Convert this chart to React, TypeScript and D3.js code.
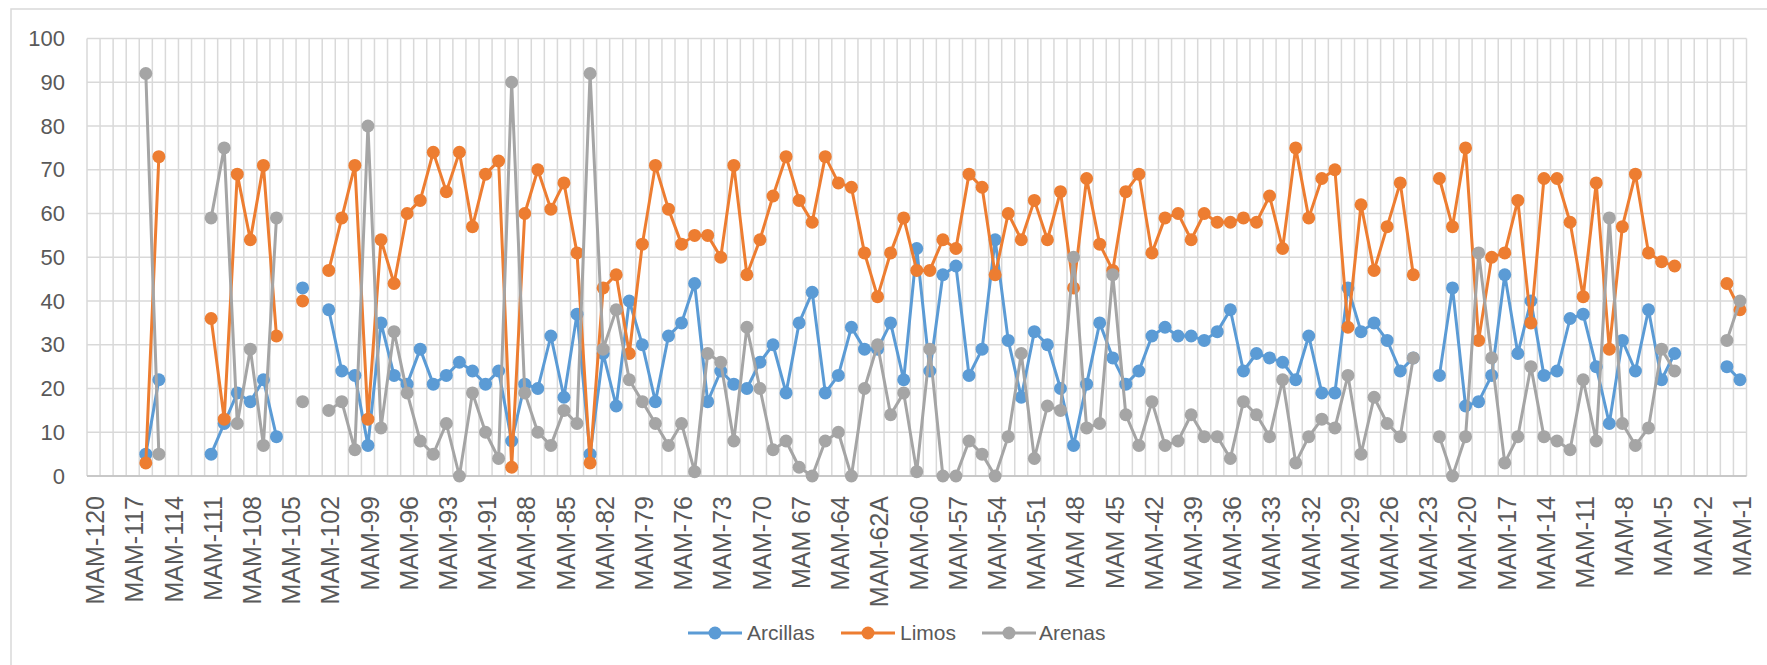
import React from "react";
import * as d3 from "d3";

const categories: string[] = [
  "MAM-120","MAM-119","MAM-118","MAM-117","MAM-116","MAM-115","MAM-114","MAM-113","MAM-112",
  "MAM-111","MAM-110","MAM-109","MAM-108","MAM-107","MAM-106","MAM-105","MAM-104","MAM-103",
  "MAM-102","MAM-101","MAM-100","MAM-99","MAM-98","MAM-97","MAM-96","MAM-95","MAM-94",
  "MAM-93","MAM-92A","MAM-92","MAM-91","MAM-90","MAM-89","MAM-88","MAM-87","MAM-86",
  "MAM-85","MAM-84","MAM-83","MAM-82","MAM-81","MAM-80","MAM-79","MAM-78","MAM-77",
  "MAM-76","MAM-75","MAM-74","MAM-73","MAM-72","MAM-71","MAM-70","MAM-69","MAM-68",
  "MAM 67","MAM-66","MAM-65","MAM-64","MAM-63","MAM-62","MAM-62A","MAM-61","MAM-61A",
  "MAM-60","MAM-59","MAM-58","MAM-57","MAM-56","MAM-55","MAM-54","MAM-53","MAM-52",
  "MAM-51","MAM-50","MAM-49","MAM 48","MAM-47","MAM-46","MAM 45","MAM-44","MAM-43",
  "MAM-42","MAM-41","MAM-40","MAM-39","MAM-38","MAM-37","MAM-36","MAM-35","MAM-34",
  "MAM-33","MAM-33A","MAM-33B","MAM-32","MAM-31","MAM-30","MAM-29","MAM-28","MAM-27",
  "MAM-26","MAM-25","MAM-24","MAM-23","MAM-22","MAM-21","MAM-20","MAM-19","MAM-18",
  "MAM-17","MAM-16","MAM-15","MAM-14","MAM-13","MAM-12","MAM-11","MAM-10","MAM-9",
  "MAM-8","MAM-7","MAM-6","MAM-5","MAM-4","MAM-3","MAM-2","MAM-2B","MAM-1A",
  "MAM-1",
];

type V = number | null;

const arcillas: V[] = [
  null,null,null,null,5,22,null,null,null,
  5,12,19,17,22,9,null,43,null,
  38,24,23,7,35,23,21,29,21,
  23,26,24,21,24,8,21,20,32,
  18,37,5,28,16,40,30,17,32,
  35,44,17,24,21,20,26,30,19,
  35,42,19,23,34,29,29,35,22,
  52,24,46,48,23,29,54,31,18,
  33,30,20,7,21,35,27,21,24,
  32,34,32,32,31,33,38,24,28,
  27,26,22,32,19,19,43,33,35,
  31,24,27,null,23,43,16,17,23,
  46,28,40,23,24,36,37,25,12,
  31,24,38,22,28,null,null,null,25,
  22,
];

const limos: V[] = [
  null,null,null,null,3,73,null,null,null,
  36,13,69,54,71,32,null,40,null,
  47,59,71,13,54,44,60,63,74,
  65,74,57,69,72,2,60,70,61,
  67,51,3,43,46,28,53,71,61,
  53,55,55,50,71,46,54,64,73,
  63,58,73,67,66,51,41,51,59,
  47,47,54,52,69,66,46,60,54,
  63,54,65,43,68,53,47,65,69,
  51,59,60,54,60,58,58,59,58,
  64,52,75,59,68,70,34,62,47,
  57,67,46,null,68,57,75,31,50,
  51,63,35,68,68,58,41,67,29,
  57,69,51,49,48,null,null,null,44,
  38,
];

const arenas: V[] = [
  null,null,null,null,92,5,null,null,null,
  59,75,12,29,7,59,null,17,null,
  15,17,6,80,11,33,19,8,5,
  12,0,19,10,4,90,19,10,7,
  15,12,92,29,38,22,17,12,7,
  12,1,28,26,8,34,20,6,8,
  2,0,8,10,0,20,30,14,19,
  1,29,0,0,8,5,0,9,28,
  4,16,15,50,11,12,46,14,7,
  17,7,8,14,9,9,4,17,14,
  9,22,3,9,13,11,23,5,18,
  12,9,27,null,9,0,9,51,27,
  3,9,25,9,8,6,22,8,59,
  12,7,11,29,24,null,null,null,31,
  40,
];

const yTicks: number[] = [0, 10, 20, 30, 40, 50, 60, 70, 80, 90, 100];
const seriesNames: string[] = ["Arcillas", "Limos", "Arenas"];
const seriesColors: string[] = ["#5B9BD5", "#ED7D31", "#A5A5A5"];
const seriesData: V[][] = [arcillas, limos, arenas];

const FONT = "'Liberation Sans', Arial, sans-serif";
const TEXT = "#595959";
const GRID = "#D9D9D9";

export default function App() {
  const W = 1767;
  const H = 665;
  const left = 87;
  const right = 1746.5;
  const top = 38.5;
  const bottom = 476;

  const x = d3.scaleBand<string>().domain(categories).range([left, right]).padding(0);
  const y = d3.scaleLinear().domain([0, 100]).range([bottom, top]);
  const bw = x.bandwidth();
  const cx = (i: number) => (x(categories[i]) as number) + bw / 2;

  const lineGen = d3
    .line<V>()
    .defined((d) => d !== null)
    .x((_, i) => cx(i))
    .y((d) => y(d as number));

  const legendItems = [
    { lx: 688, tx: 747 },
    { lx: 841, tx: 900 },
    { lx: 982, tx: 1039 },
  ];
  const legendY = 633;

  return (
    <svg
      width={W}
      height={H}
      style={{ position: "absolute", left: 0, top: 0, background: "#fff" }}
      fontFamily={FONT}
    >
      <rect x={0} y={0} width={W} height={H} fill="#fff" />
      <rect x={11} y={9} width={W + 20} height={H + 20} fill="none" stroke={GRID} strokeWidth={1.5} />

      {/* horizontal gridlines */}
      {yTicks.map((t) => (
        <line key={"h" + t} x1={left} x2={right} y1={y(t)} y2={y(t)} stroke={GRID} strokeWidth={1.5} />
      ))}
      {/* vertical gridlines */}
      {categories.map((c) => (
        <line key={"v" + c} x1={x(c)} x2={x(c)} y1={top} y2={bottom} stroke={GRID} strokeWidth={1.5} />
      ))}
      <line x1={right} x2={right} y1={top} y2={bottom} stroke={GRID} strokeWidth={1.5} />
      <line x1={left} x2={right} y1={bottom} y2={bottom} stroke="#BFBFBF" strokeWidth={1.5} />

      {/* y labels */}
      {yTicks.map((t) => (
        <text key={"yl" + t} x={65} y={y(t)} dy="0.35em" textAnchor="end" fontSize={22} fill={TEXT}>
          {t}
        </text>
      ))}

      {/* x labels */}
      {categories.map((c, i) =>
        i % 3 === 0 ? (
          <text
            key={"xl" + c}
            transform={`translate(${cx(i) + 2},${496}) rotate(-90)`}
            dy="0.35em"
            textAnchor="end"
            fontSize={25}
            fill={TEXT}
          >
            {c}
          </text>
        ) : null
      )}

      {/* series */}
      {seriesData.map((data, s) => (
        <g key={"s" + s}>
          <path d={lineGen(data) || ""} fill="none" stroke={seriesColors[s]} strokeWidth={3} strokeLinejoin="round" />
          {data.map((d, i) =>
            d === null ? null : (
              <circle key={"p" + i} cx={cx(i)} cy={y(d)} r={6.5} fill={seriesColors[s]} />
            )
          )}
        </g>
      ))}

      {/* legend */}
      {seriesNames.map((n, s) => (
        <g key={"lg" + n}>
          <line
            x1={legendItems[s].lx}
            x2={legendItems[s].lx + 54}
            y1={legendY}
            y2={legendY}
            stroke={seriesColors[s]}
            strokeWidth={3}
          />
          <circle cx={legendItems[s].lx + 27} cy={legendY} r={6.5} fill={seriesColors[s]} />
          <text x={legendItems[s].tx} y={legendY} dy="0.35em" fontSize={21} fill={TEXT}>
            {n}
          </text>
        </g>
      ))}
    </svg>
  );
}
